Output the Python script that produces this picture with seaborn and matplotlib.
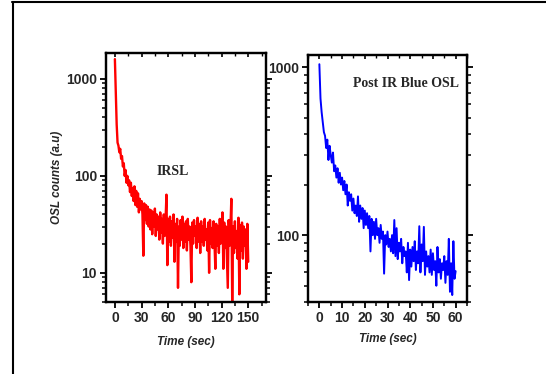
import numpy as np
import pandas as pd
import matplotlib
matplotlib.use("Agg")
import matplotlib.pyplot as plt
from matplotlib.lines import Line2D
from matplotlib.ticker import NullFormatter
import seaborn as sns

# ---- data ----
# IRSL signal, sampled every 1 s from 0 to 150 s
irsl_step = 1.0
irsl_counts = [
    1600, 750, 340, 220, 205, 175, 190, 150, 160, 125,
    135, 100, 115, 85, 100, 80, 90, 68, 85, 62,
    75, 55, 78, 50, 70, 48, 66, 42, 58, 45,
    55, 40, 15, 52, 35, 50, 32, 48, 30, 45,
    28, 44, 25, 42, 30, 46, 24, 40, 28, 38,
    22, 42, 26, 36, 20, 40, 24, 35, 64, 12,
    36, 21, 38, 19, 34, 23, 40, 13, 32, 21,
    36, 7, 30, 19, 35, 22, 38, 18, 32, 21,
    34, 17, 36, 22, 30, 19, 8, 33, 20, 35,
    24, 30, 18, 37, 21, 32, 16, 34, 21, 30,
    19, 36, 22, 28, 17, 33, 10, 35, 20, 29,
    18, 34, 21, 11, 32, 19, 30, 16, 36, 20,
    28, 42, 11, 33, 18, 30, 15, 7, 35, 19,
    29, 58, 5, 30, 16, 34, 18, 27, 14, 37,
    6, 31, 17, 33, 14, 30, 19, 28, 11, 32,
    13,
]

# Post IR blue OSL signal, sampled every 0.5 s from 0 to 60 s
osl_step = 0.5
osl_counts = [
    1040, 650, 540, 470, 410, 390, 330, 370, 280, 340,
    300, 270, 310, 240, 260, 220, 250, 205, 235, 200,
    220, 185, 210, 175, 200, 150, 180, 160, 175, 140,
    165, 135, 150, 130, 170, 120, 150, 125, 145, 110,
    140, 115, 135, 110, 130, 80, 125, 100, 120, 95,
    125, 100, 110, 90, 115, 95, 105, 59, 100, 88,
    105, 85, 95, 80, 100, 78, 123, 75, 110, 72,
    90, 80, 95, 68, 85, 75, 80, 60, 90, 54,
    82, 65, 85, 70, 92, 62, 80, 68, 113, 60,
    88, 70, 112, 58, 80, 65, 75, 60, 82, 58,
    78, 62, 70, 50, 85, 60, 72, 55, 68, 62,
    75, 52, 70, 58, 95, 46, 68, 44, 92, 55,
    61,
]

irsl_df = pd.DataFrame({"time": np.arange(len(irsl_counts)) * irsl_step,
                        "counts": irsl_counts})
osl_df = pd.DataFrame({"time": np.arange(len(osl_counts)) * osl_step,
                       "counts": osl_counts})

left_xticks = [0, 30, 60, 90, 120, 150]
left_xminor = [-15, 15, 45, 75, 105, 135, 165]
right_xticks = [0, 10, 20, 30, 40, 50, 60]
right_xminor = [-5, 5, 15, 25, 35, 45, 55, 65]
left_yticks = [10, 100, 1000]
left_yminor = [5, 6, 7, 8, 9, 20, 30, 40, 50, 60, 70, 80, 90,
               200, 300, 400, 500, 600, 700, 800, 900]
right_yticks = [100, 1000]
right_yminor = [40, 50, 60, 70, 80, 90, 200, 300, 400, 500, 600, 700, 800, 900]

# ---- style ----
sns.set_style("ticks")
plt.rcParams["font.family"] = ["Liberation Sans", "DejaVu Sans"]
plt.rcParams["axes.linewidth"] = 1.6
plt.rcParams["axes.edgecolor"] = "black"

fig = plt.figure(figsize=(5.46, 3.74), dpi=100)
ax1 = fig.add_axes([106 / 546, 1 - 302 / 374, 160 / 546, 249 / 374])
ax2 = fig.add_axes([308 / 546, 1 - 302 / 374, 159 / 546, 247 / 374])

sns.lineplot(data=irsl_df, x="time", y="counts", ax=ax1, color="#ff0000",
             linewidth=1.7, estimator=None, sort=False)
sns.lineplot(data=osl_df, x="time", y="counts", ax=ax2, color="#0000ff",
             linewidth=1.4, estimator=None, sort=False)

setups = [
    (ax1, (-10, 170), (5, 1850), left_xticks, left_xminor, left_yticks, left_yminor),
    (ax2, (-5, 65), (40, 1180), right_xticks, right_xminor, right_yticks, right_yminor),
]

for ax, xl, yl, xt, xm, yt, ym in setups:
    ax.set_yscale("log")
    ax.set_xlim(*xl)
    ax.set_ylim(*yl)
    ax.set_yticks(yt)
    ax.set_yticklabels([str(v) for v in yt], fontweight="bold")
    ax.set_yticks(ym, minor=True)
    ax.yaxis.set_minor_formatter(NullFormatter())
    ax.set_xticks(xt)
    ax.set_xticklabels([str(v) for v in xt], fontweight="bold")
    ax.set_xticks(xm, minor=True)
    ax.xaxis.set_minor_formatter(NullFormatter())
    ax.set_xlim(*xl)
    ax.tick_params(axis="both", which="major", length=4.5, width=1.3,
                   labelsize=10, pad=2, direction="out", color="black",
                   left=True, right=True, bottom=True, top=False)
    ax.tick_params(axis="both", which="minor", length=3, width=1.1,
                   direction="out", color="black",
                   left=True, right=True, bottom=True, top=False)
    # top ticks pointing inward, drawn on a twin x axis
    tw = ax.twiny()
    tw.set_xlim(*xl)
    tw.set_xticks(xt)
    tw.set_xticks(xm, minor=True)
    tw.xaxis.set_major_formatter(NullFormatter())
    tw.xaxis.set_minor_formatter(NullFormatter())
    tw.set_xlim(*xl)
    tw.tick_params(axis="x", which="major", direction="in", length=3,
                   width=1.2, color="black", top=True, bottom=False,
                   labeltop=False, labelbottom=False)
    tw.tick_params(axis="x", which="minor", direction="in", length=2,
                   width=1.0, color="black", top=True, bottom=False,
                   labeltop=False, labelbottom=False)

lab_kw = dict(fontsize=8.5, fontweight="bold", fontstyle="italic")
ax1.set_xlabel("Time (sec)", labelpad=8, **lab_kw)
ax2.set_xlabel("Time (sec)", labelpad=6, **lab_kw)
ax1.set_ylabel("OSL counts (a.u)", labelpad=2, **lab_kw)
ax2.set_ylabel("")

serif = ["Liberation Serif", "DejaVu Serif"]
ax1.text(0.42, 0.526, "IRSL", transform=ax1.transAxes, family=serif,
         fontsize=10, fontweight="bold", ha="center", va="center")
ax2.text(0.95, 0.885, "Post IR Blue OSL", transform=ax2.transAxes, family=serif,
         fontsize=10, fontweight="bold", ha="right", va="center")

# outer partial frame
fig.add_artist(Line2D([12.5 / 546, 12.5 / 546], [0, 1 - 2 / 374],
                      transform=fig.transFigure, color="black", linewidth=1.5))
fig.add_artist(Line2D([12 / 546, 1], [1 - 2 / 374, 1 - 2 / 374],
                      transform=fig.transFigure, color="black", linewidth=1.5))

fig.savefig("out.png", dpi=100, facecolor="white")
